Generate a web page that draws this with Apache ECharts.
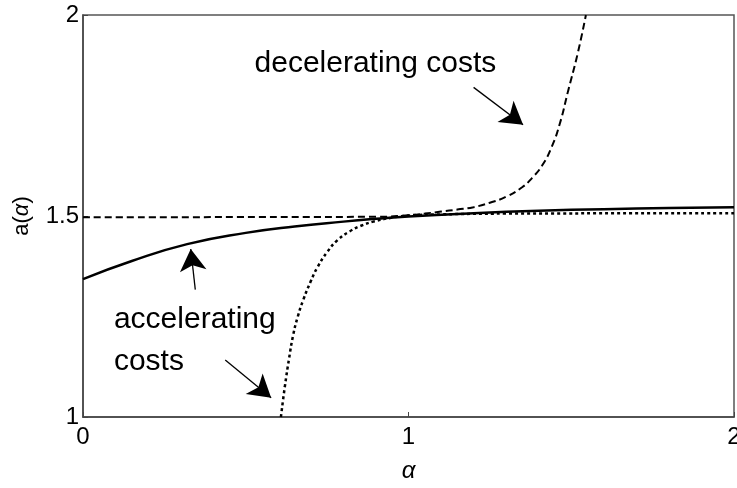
<!DOCTYPE html>
<html>
<head>
<meta charset="utf-8">
<script src="https://cdn.jsdelivr.net/npm/echarts@6/dist/echarts.min.js"></script>
<style>
  html, body { margin: 0; padding: 0; background: #fff; }
  #chart { width: 737px; height: 488px; }
</style>
</head>
<body>
<div id="chart"></div>
<script>
// values: [alpha, a(alpha)]
const accelSolid = [[0, 1.343], [0.15, 1.388], [0.32, 1.43], [0.5, 1.458], [0.65, 1.474], [0.8, 1.486],
  [0.9, 1.493], [1.0, 1.499], [1.2, 1.507], [1.4, 1.513], [1.6, 1.517], [1.8, 1.52], [2.0, 1.522]];
const decelDashed = [[0, 1.497], [0.9, 1.498], [1.0, 1.502], [1.05, 1.506], [1.1, 1.511], [1.15, 1.516],
  [1.2, 1.522], [1.25, 1.533], [1.3, 1.548], [1.35, 1.572], [1.38, 1.595], [1.41, 1.625], [1.44, 1.672],
  [1.465, 1.73], [1.49, 1.81], [1.52, 1.905], [1.545, 2.0]];
const accelDotted = [[0.608, 1.0], [0.62, 1.075], [0.633, 1.145], [0.646, 1.205], [0.66, 1.25], [0.677, 1.292],
  [0.70, 1.338], [0.72, 1.372], [0.75, 1.41], [0.782, 1.44], [0.82, 1.462], [0.852, 1.475], [0.892, 1.486],
  [0.95, 1.496], [1.0, 1.501], [1.1, 1.504], [1.3, 1.506], [2.0, 1.507]];

const labelTexts = [[0.527, 1.88, 'decelerating costs'], [0.095, 1.242, 'accelerating'], [0.095, 1.137, 'costs']];
// arrows: [from, to] in data units
const arrows = [
  [[0.345, 1.317], [0.331, 1.418]],
  [[0.437, 1.142], [0.578, 1.048]],
  [[1.2, 1.820], [1.352, 1.727]]
];

const FONT = 'Liberation Sans';
const chart = echarts.init(document.getElementById('chart'));

chart.setOption({
  animation: false,
  textStyle: { fontFamily: FONT },
  grid: {
    left: 83, right: 3, top: 15, bottom: 71, outerBoundsMode: 'none', containLabel: false,
    show: true, borderColor: '#555', borderWidth: 1.5
  },
  xAxis: {
    type: 'value', min: 0, max: 2, interval: 1,
    name: 'α', nameLocation: 'middle', nameGap: 42,
    nameTextStyle: { fontSize: 24, fontStyle: 'italic', color: '#000', fontFamily: FONT },
    axisLine: { lineStyle: { color: '#444', width: 1.5 } },
    axisTick: { inside: true, length: 5, lineStyle: { color: '#444' } },
    axisLabel: { fontSize: 24, color: '#000', margin: 8 },
    splitLine: { show: false }
  },
  yAxis: {
    type: 'value', min: 1, max: 2, interval: 0.5,
    name: '{n|a(}{i|α}{n|)}', nameLocation: 'middle', nameGap: 50, nameRotate: 90,
    nameTextStyle: {
      rich: {
        n: { fontSize: 22, color: '#000', fontFamily: FONT },
        i: { fontSize: 22, color: '#000', fontStyle: 'italic', fontFamily: FONT }
      }
    },
    axisLine: { lineStyle: { color: '#444', width: 1.5 } },
    axisTick: { inside: true, length: 5, lineStyle: { color: '#444' } },
    axisLabel: { fontSize: 24, color: '#000', margin: 4 },
    splitLine: { show: false }
  },
  series: [
    {
      type: 'line', data: accelSolid, smooth: true, showSymbol: false,
      lineStyle: { color: '#000', width: 2.5 }
    },
    {
      type: 'line', data: decelDashed, smooth: true, showSymbol: false,
      lineStyle: { color: '#000', width: 2, type: [7, 4] }
    },
    {
      type: 'line', data: accelDotted, smooth: true, showSymbol: false,
      lineStyle: { color: '#000', width: 2.5, type: [3, 3] }
    },
    {
      type: 'scatter', data: labelTexts, symbolSize: 0, silent: true,
      itemStyle: { opacity: 1 },
      label: {
        show: true, position: 'inside', align: 'left', verticalAlign: 'middle', opacity: 1,
        formatter: p => p.data[2], fontSize: 30, color: '#000', fontFamily: FONT
      },
      markLine: {
        silent: true, symbol: ['none', 'arrow'], symbolSize: [20, 22],
        label: { show: false },
        lineStyle: { color: '#000', width: 1.3, type: 'solid', opacity: 1 },
        data: arrows.map(a => [{ coord: a[0] }, { coord: a[1] }])
      }
    }
  ]
});
</script>
</body>
</html>
